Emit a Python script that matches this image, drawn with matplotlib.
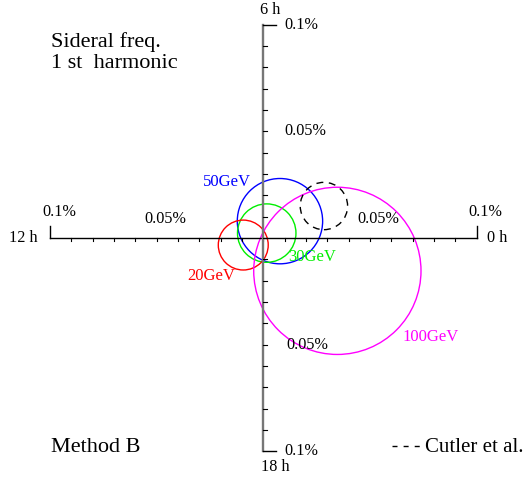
import matplotlib
matplotlib.use("Agg")
import matplotlib.pyplot as plt
from matplotlib.patches import Circle

# Amplitude components in units of 0.01 %
labels = ["50GeV", "30GeV", "20GeV", "100GeV", "Cutler et al."]
cx = [0.78, 0.16, -0.94, 3.47, 2.84]
cy = [0.79, 0.23, -0.33, -1.54, 1.50]
radius = [2.00, 1.37, 1.17, 3.92, 1.11]
colors = ["#0000ff", "#00ee00", "#ff0000", "#ff00ff", "black"]
styles = ["-", "-", "-", "-", (0, (5, 4))]

axis_max = 10  # 0.1 %
tick_step = 1  # 0.01 %
h_labels = ["0 h", "6 h", "12 h", "18 h"]

plt.rcParams['font.family'] = ['Liberation Serif', 'DejaVu Serif']

fig = plt.figure(figsize=(5.23, 4.79), dpi=100)
ax = fig.add_axes([0, 0, 1, 1])
ax.set_xlim(-12.34, 12.17)
ax.set_ylim(-11.30, 11.16)
ax.axis("off")

# horizontal axis
ax.plot([-axis_max, axis_max], [0, 0], color="black", lw=1.0)
for s in (-1, 1):
    ax.plot([s * axis_max, s * axis_max], [0, 0.56], color="black", lw=1.0)
for i in range(-axis_max + 1, axis_max):
    ax.plot([i * tick_step, i * tick_step], [0, -0.15], color="black", lw=0.8)

# vertical axis
ax.plot([0, 0], [-axis_max, axis_max], color="#777777", lw=1.7)
for s in (-1, 1):
    ax.plot([0, 0.6], [s * axis_max, s * axis_max], color="black", lw=1.0)
for i in range(-axis_max + 1, axis_max):
    ax.plot([0, 0.15], [i * tick_step, i * tick_step], color="black", lw=0.8)

fs = 11.7
ax.text(1.0, 10.0, "0.1%", fontsize=fs, ha="left", va="center")
ax.text(1.0, -10.0, "0.1%", fontsize=fs, ha="left", va="center")
ax.text(1.0, 5.0, "0.05%", fontsize=fs, ha="left", va="center")
ax.text(1.1, -5.0, "0.05%", fontsize=fs, ha="left", va="center")
ax.text(-9.58, 1.22, "0.1%", fontsize=fs, ha="center", va="center")
ax.text(10.39, 1.22, "0.1%", fontsize=fs, ha="center", va="center")
ax.text(-4.61, 0.9, "0.05%", fontsize=fs, ha="center", va="center")
ax.text(5.38, 0.9, "0.05%", fontsize=fs, ha="center", va="center")
ax.text(10.5, 0, h_labels[0], fontsize=fs, ha="left", va="center")
ax.text(0.33, 10.69, h_labels[1], fontsize=fs, ha="center", va="center")
ax.text(-10.56, 0, h_labels[2], fontsize=fs, ha="right", va="center")
ax.text(0.55, -10.72, h_labels[3], fontsize=fs, ha="center", va="center")

for x, y, r, c, ls in zip(cx, cy, radius, colors, styles):
    ax.add_patch(Circle((x, y), r, fill=False, edgecolor=c, lw=1.0, linestyle=ls))

lab_pos = [(-1.72, 2.63, "center"), (2.31, -0.89, "center"), (-2.43, -1.8, "center"), (6.5, -4.65, "left")]
for (lx, ly, ha), t, c in zip(lab_pos, labels[:4], colors[:4]):
    ax.text(lx, ly, t, color=c, fontsize=12.0, ha=ha, va="center")

ax.text(-9.96, 8.94, "Sideral freq.", fontsize=16, ha="left", va="baseline")
ax.text(-9.96, 7.99, "1 st  harmonic", fontsize=16, ha="left", va="baseline")
ax.text(-9.96, -10.05, "Method B", fontsize=16, ha="left", va="baseline")
ax.plot([6.02, 7.32], [-9.75, -9.75], color="black", lw=1.0, linestyle=(0, (3.6, 4.4)))
ax.text(7.6, -10.03, labels[4], fontsize=15, ha="left", va="baseline")

fig.savefig("out.png", dpi=100)
